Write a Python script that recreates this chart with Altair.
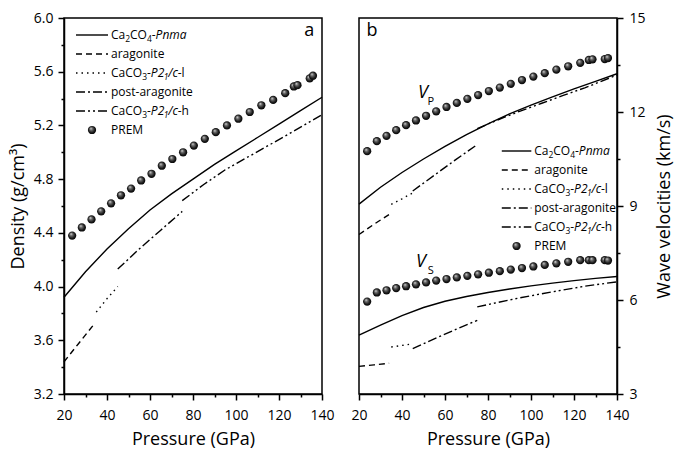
import altair as alt
import pandas as pd

FONT = "Open Sans"
W, H = 258, 376
KX, KY = W / 262, H / 390

# ---------------- data ----------------
pressure_ticks = list(range(20, 141, 10))
rho_ticks = [round(3.2 + 0.2 * i, 1) for i in range(15)]
vel_ticks = [3 + 1.5 * i for i in range(9)]

prem_p = [23.8, 28.3, 32.8, 37.3, 41.9, 46.5, 51.2, 55.9, 60.7, 65.5, 70.4, 75.4, 80.4,
          85.5, 90.6, 95.8, 101.1, 106.4, 111.8, 117.3, 122.9, 126.9, 128.6, 134.3, 135.8]
prem_rho = [4.38, 4.44, 4.50, 4.56, 4.62, 4.68, 4.73, 4.79, 4.84, 4.90, 4.95, 5.00, 5.05,
            5.10, 5.15, 5.20, 5.25, 5.30, 5.35, 5.39, 5.44, 5.49, 5.50, 5.55, 5.57]
prem_vp = [10.75, 11.07, 11.24, 11.42, 11.58, 11.73, 11.88, 12.02, 12.16, 12.29, 12.42, 12.54, 12.67,
           12.78, 12.90, 13.02, 13.13, 13.24, 13.35, 13.46, 13.57, 13.66, 13.68, 13.69, 13.72]
prem_vs = [5.95, 6.24, 6.31, 6.38, 6.44, 6.50, 6.56, 6.62, 6.67, 6.72, 6.77, 6.82, 6.87,
           6.92, 6.97, 7.02, 7.07, 7.12, 7.17, 7.22, 7.27, 7.27, 7.27, 7.27, 7.26]

pnma_p = [20, 30, 40, 50, 60, 70, 80, 90, 100, 110, 120, 130, 140]
pnma_rho = [3.92, 4.11, 4.28, 4.43, 4.57, 4.69, 4.80, 4.91, 5.01, 5.11, 5.21, 5.31, 5.41]
pnma_vp = [9.06, 9.60, 10.07, 10.50, 10.90, 11.28, 11.62, 11.94, 12.22, 12.48, 12.74, 12.98, 13.22]
pnma_vs = [4.88, 5.20, 5.50, 5.76, 5.96, 6.11, 6.24, 6.35, 6.45, 6.54, 6.62, 6.69, 6.75]

arag_p = [20, 27, 34]
arag_rho = [3.44, 3.58, 3.72]
arag_vp = [8.09, 8.42, 8.73]
arag_vs = [3.88, 3.93, 3.98]

p21l_p = [35, 40, 45]
p21l_rho = [3.81, 3.91, 4.00]
p21l_vp = [9.05, 9.23, 9.42]
p21l_vs = [4.50, 4.55, 4.60]

post_p = [45, 55, 65, 75]
post_rho = [4.13, 4.28, 4.42, 4.56]
post_vp = [9.48, 9.98, 10.48, 10.96]
post_vs = [4.45, 4.76, 5.06, 5.35]

p21h_p = [75, 85, 95, 105, 115, 125, 140]
p21h_rho = [4.64, 4.76, 4.87, 4.96, 5.05, 5.14, 5.28]
p21h_vp = [11.47, 11.76, 12.03, 12.28, 12.53, 12.77, 13.18]
p21h_vs = [5.78, 5.93, 6.07, 6.20, 6.32, 6.44, 6.58]

# ---------------- styles ----------------
DASH = {"pnma": None, "arag": [6, 4], "p21l": [1.5, 4], "post": [9, 3, 2, 3], "p21h": [9, 3, 2, 3, 2, 3]}
GRAD = {"gradient": "radial", "x1": 0.35, "y1": 0.3, "r1": 0.0, "x2": 0.5, "y2": 0.5, "r2": 0.55,
        "stops": [{"offset": 0, "color": "#e8e8e8"}, {"offset": 0.3, "color": "#6e6e6e"},
                  {"offset": 0.7, "color": "#1a1a1a"}, {"offset": 1, "color": "#000000"}]}

CW = {'C': 0.633, 'a': 0.556, 'O': 0.780, '-': 0.322, 'P': 0.602, 'n': 0.613, 'm': 0.928, 'r': 0.408,
      'g': 0.546, 'o': 0.602, 'i': 0.258, 't': 0.352, 'e': 0.561, 'l': 0.258, 's': 0.479, 'h': 0.613,
      'c': 0.480, '/': 0.371, '2': 0.559, '1': 0.559, '3': 0.559, '4': 0.559, 'p': 0.613}

LEGEND = [
    ("pnma", [("Ca", "n"), ("2", "s"), ("CO", "n"), ("4", "s"), ("-", "n"), ("Pnma", "i")]),
    ("arag", [("aragonite", "n")]),
    ("p21l", [("CaCO", "n"), ("3", "s"), ("-", "n"), ("P2", "i"), ("1", "is"), ("/c", "i"), ("-l", "n")]),
    ("post", [("post-aragonite", "n")]),
    ("p21h", [("CaCO", "n"), ("3", "s"), ("-", "n"), ("P2", "i"), ("1", "is"), ("/c", "i"), ("-h", "n")]),
    ("prem", [("PREM", "n")]),
]

ONE = pd.DataFrame({"k": [0]})


def xaxis():
    return alt.Axis(values=pressure_ticks, title="Pressure (GPa)", labelFlush=False,
                    labelExpr="datum.value % 20 == 0 ? datum.label : ''",
                    tickSize={"condition": {"test": "datum.value % 20 == 0", "value": 6}, "value": 3},
                    labelPadding=8, titlePadding=8)


def line_layer(p, vals, key, ax, yscale, yaxis):
    df = pd.DataFrame({"P": p, "v": vals})
    kw = {}
    if DASH[key]:
        kw["strokeDash"] = DASH[key]
    return alt.Chart(df).mark_line(color="black", strokeWidth=1.4, **kw).encode(
        x=alt.X("P:Q", scale=alt.Scale(domain=[20, 140], nice=False), axis=ax),
        y=alt.Y("v:Q", scale=yscale, axis=yaxis))


def prem_layer(p, vals, ax, yscale, yaxis):
    df = pd.DataFrame({"P": p, "v": vals})
    return alt.Chart(df).mark_circle(size=68, opacity=1, fill=GRAD).encode(
        x=alt.X("P:Q", scale=alt.Scale(domain=[20, 140], nice=False), axis=ax),
        y=alt.Y("v:Q", scale=yscale, axis=yaxis))


def text_at(x, y, txt, size=12, style="normal", align="left"):
    return alt.Chart(ONE).mark_text(text=txt, font=FONT, fontSize=size, fontStyle=style, align=align,
                                    baseline="middle", color="black").encode(
        x=alt.value(x), y=alt.value(y))


def legend_layers(x0, x1, xt, ys):
    layers = []
    for (key, segs), y in zip(LEGEND, ys):
        if key == "prem":
            layers.append(alt.Chart(ONE).mark_circle(size=68, opacity=1, fill=GRAD).encode(
                x=alt.value((x0 + x1) / 2), y=alt.value(y)))
        else:
            kw = {}
            if DASH[key]:
                kw["strokeDash"] = DASH[key]
            layers.append(alt.Chart(ONE).mark_rule(color="black", strokeWidth=1.4, **kw).encode(
                x=alt.value(x0), x2=alt.value(x1), y=alt.value(y)))
        cur = xt
        for txt, st in segs:
            sub = "s" in st
            size = 8.5 if sub else 12
            style = "italic" if "i" in st else "normal"
            layers.append(text_at(cur, y + (3.5 if sub else 0), txt, size, style))
            cur += sum(CW.get(c, 0.55) for c in txt) * size * (0.93 if style == "italic" else 1.0)
    return layers


# ---------------- left panel: density ----------------
rho_scale = alt.Scale(domain=[3.2, 6.0], nice=False)
rho_axis = alt.Axis(values=rho_ticks, format=".1f", title="Density (g/cm³)",
                    labelExpr="round(datum.value * 10) % 4 == 0 ? datum.label : ''",
                    tickSize={"condition": {"test": "round(datum.value * 10) % 4 == 0", "value": 6},
                              "value": 3},
                    labelPadding=5, titlePadding=6)
xa = xaxis()
left_layers = [
    line_layer(pnma_p, pnma_rho, "pnma", xa, rho_scale, rho_axis),
    line_layer(arag_p, arag_rho, "arag", xa, rho_scale, rho_axis),
    line_layer(p21l_p, p21l_rho, "p21l", xa, rho_scale, rho_axis),
    line_layer(post_p, post_rho, "post", xa, rho_scale, rho_axis),
    line_layer(p21h_p, p21h_rho, "p21h", xa, rho_scale, rho_axis),
    prem_layer(prem_p, prem_rho, xa, rho_scale, rho_axis),
]
left_layers += legend_layers(12, 44, 47, [17, 36, 55, 74, 93, 112])
left_layers.append(text_at(249 * KX, 13, "a", 18, align="center"))
left = alt.layer(*left_layers).properties(width=W, height=H)

# ---------------- right panel: velocities ----------------
vel_scale = alt.Scale(domain=[3, 15], nice=False)
vel_axis = alt.Axis(values=vel_ticks, orient="right", title="Wave velocities (km/s)", titleAngle=270,
                    labelExpr="datum.value % 3 == 0 ? datum.label : ''",
                    tickSize={"condition": {"test": "datum.value % 3 == 0", "value": 6}, "value": 3},
                    labelPadding=6, titlePadding=28)
xb = xaxis()
right_layers = []
for vals_p, vals_s, p, key in [(pnma_vp, pnma_vs, pnma_p, "pnma"), (arag_vp, arag_vs, arag_p, "arag"),
                               (p21l_vp, p21l_vs, p21l_p, "p21l"), (post_vp, post_vs, post_p, "post"),
                               (p21h_vp, p21h_vs, p21h_p, "p21h")]:
    right_layers.append(line_layer(p, vals_p, key, xb, vel_scale, vel_axis))
    right_layers.append(line_layer(p, vals_s, key, xb, vel_scale, vel_axis))
right_layers.append(prem_layer(prem_p, prem_vp, xb, vel_scale, vel_axis))
right_layers.append(prem_layer(prem_p, prem_vs, xb, vel_scale, vel_axis))
right_layers += legend_layers(145 * KX, 175 * KX, 178 * KX, [133, 152, 171, 190, 209, 228])
right_layers.append(text_at(13, 13, "b", 18, align="center"))
right_layers.append(text_at(65 * KX, 78 * KY, "V", 18, "italic", align="center"))
right_layers.append(text_at(73 * KX, 87 * KY, "P", 11, align="center"))
right_layers.append(text_at(63 * KX, 253 * KY, "V", 18, "italic", align="center"))
right_layers.append(text_at(73 * KX, 262 * KY, "S", 11, align="center"))
right = alt.layer(*right_layers).properties(width=W, height=H)

chart = alt.hconcat(left, right, spacing=37, bounds="flush").properties(
    padding={"top": 2, "left": 0, "right": 0, "bottom": 0}
).configure_view(
    stroke="black", strokeWidth=1.5
).configure_axis(
    grid=False, domainColor="black", domainWidth=1.5, tickColor="black", tickWidth=1.5,
    labelFont=FONT, labelFontSize=14, labelColor="black",
    titleFont=FONT, titleFontSize=18, titleFontWeight="normal", titleColor="black"
)

chart.save("out.html", embed_options={"renderer": "svg", "actions": False})
